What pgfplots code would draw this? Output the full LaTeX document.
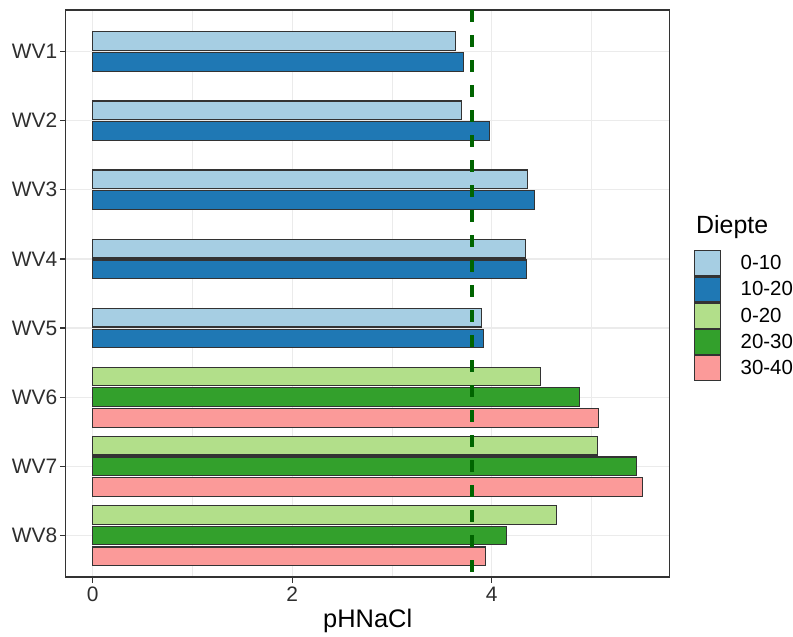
\documentclass[border=0pt]{standalone}
\usepackage{fontspec}
\setmainfont{Liberation Sans}
\usepackage{pgfplots}
\pgfplotsset{compat=1.18}
\definecolor{cA}{HTML}{A6CEE3}
\definecolor{cB}{HTML}{1F78B4}
\definecolor{cC}{HTML}{B2DF8A}
\definecolor{cD}{HTML}{33A02C}
\definecolor{cE}{HTML}{FB9A99}
\definecolor{frame}{HTML}{333333}
\definecolor{tickgray}{HTML}{2E2E2E}
\definecolor{gridgray}{HTML}{EBEBEB}
\definecolor{dgreen}{HTML}{006400}
\begin{document}
\begin{tikzpicture}
\useasboundingbox (0,0) rectangle (793bp,-637bp);
\begin{axis}[
  at={(65.7bp,-577bp)}, anchor=south west,
  width=603.6bp, height=567bp, scale only axis,
  xmin=-0.27, xmax=5.78, ymin=0.4, ymax=8.6, y dir=reverse,
  xtick={0,2,4}, xticklabels={0,2,4},
  ytick={1,2,3,4,5,6,7,8}, yticklabels={WV1,WV2,WV3,WV4,WV5,WV6,WV7,WV8},
  minor xtick={1,3,5},
  tick pos=left, tick align=outside, major tick length=5.5bp, minor tick length=0pt,
  xmajorgrids, ymajorgrids, xminorgrids,
  major grid style={draw=gridgray, line width=1.3bp},
  minor grid style={draw=gridgray, line width=0.7bp},
  axis line style={draw=frame, line width=1.5bp},
  every tick/.style={draw=frame, line width=1.2bp},
  xticklabel style={font=\fontsize{21}{23}\selectfont, text=tickgray, yshift=-1bp},
  yticklabel style={font=\fontsize{21}{23}\selectfont, text=tickgray, xshift=0.5bp},
  mybar/.style={xbar, bar shift=0pt, bar width=0.27, draw=black!80, line width=1.2bp},
  legend cell align=left,
  legend style={at={(1.0398,0.5767)}, anchor=north west, draw=none, fill=none,
    inner sep=0pt, row sep=0pt, column sep=0pt,
    font=\fontsize{20.5}{22}\selectfont, nodes={inner sep=0pt}},
  legend image code/.code={\draw[#1, draw=frame, line width=1.2bp] (0bp,-12.5bp) rectangle (26bp,12.5bp); \path (46bp,0bp);},
]
\addplot[mybar, fill=cA] coordinates {(3.64,0.85) (3.70,1.85) (4.36,2.85) (4.34,3.85) (3.90,4.85)};
\addlegendentry{0-10}
\addplot[mybar, fill=cB] coordinates {(3.72,1.15) (3.98,2.15) (4.43,3.15) (4.35,4.15) (3.92,5.15)};
\addlegendentry{10-20}
\addplot[mybar, fill=cC] coordinates {(4.49,5.7) (5.06,6.7) (4.65,7.7)};
\addlegendentry{0-20}
\addplot[mybar, fill=cD] coordinates {(4.88,6) (5.45,7) (4.15,8)};
\addlegendentry{20-30}
\addplot[mybar, fill=cE] coordinates {(5.07,6.3) (5.51,7.3) (3.94,8.3)};
\addlegendentry{30-40}
\addplot[forget plot, dgreen, line width=3.5bp, dash pattern=on 11.5bp off 13.5bp] coordinates {(3.8,0.4) (3.8,8.6)};
\end{axis}
\node[anchor=base west, font=\fontsize{25}{27}\selectfont, inner sep=0pt] at (696bp,-233.3bp) {Diepte};
\node[anchor=base, font=\fontsize{25.5}{27}\selectfont, inner sep=0pt] at (367.7bp,-627.5bp) {pHNaCl};
\end{tikzpicture}
\end{document}
